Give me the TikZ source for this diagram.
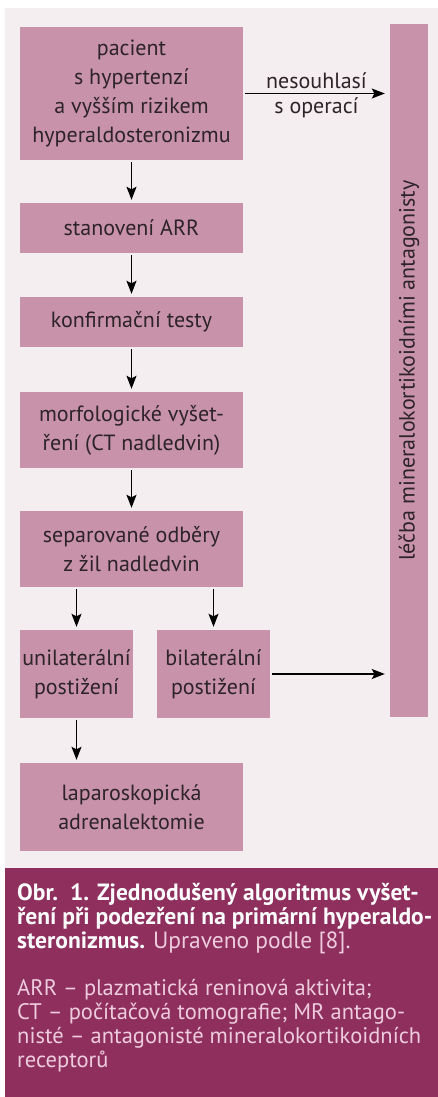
\documentclass[tikz,border=0pt]{standalone}
\usepackage{xcolor}
\usepackage{fontspec}
\setmainfont{PT Sans}
\usepackage{tikz}
\usetikzlibrary{arrows.meta}
\definecolor{boxpink}{RGB}{200,147,170}
\definecolor{bgpink}{RGB}{244,238,241}
\definecolor{capred}{RGB}{142,47,94}
\definecolor{caplight}{RGB}{238,204,221}
\definecolor{textdark}{RGB}{45,35,40}
\tikzset{box/.style={fill=boxpink, text=textdark, inner sep=0pt, align=center,
    font=\fontsize{22}{29}\selectfont},
  lab/.style={text=textdark, inner sep=4pt, font=\fontsize{22}{29}\selectfont},
  arr/.style={-{Stealth[length=13pt,width=10pt,inset=2.5pt]}, line width=1.3pt,
    shorten >=3pt, shorten <=2pt}}

\begin{document}
\begin{tikzpicture}[x=1pt,y=-1pt]
  \useasboundingbox (0,0) rectangle (438,1097);
  \fill[bgpink] (5,8) rectangle (438,868);
  \fill[capred] (5,868) rectangle (438,1097);
  \node[box, minimum width=223pt, minimum height=133pt] (P) at (131.5,93.5)
    {pacient\\ s hypertenzí\\ a vyšším rizikem\\ hyperaldosteronizmu};
  \node[box, minimum width=223pt, minimum height=50pt] (A) at (131.5,228) {stanovení ARR};
  \node[box, minimum width=223pt, minimum height=50pt] (K) at (131.5,322) {konfirmační testy};
  \node[box, minimum width=223pt, minimum height=76pt] (M) at (131.5,430)
    {morfologické vyšet-\\ ření (CT nadledvin)};
  \node[box, minimum width=223pt, minimum height=76pt] (S) at (131.5,549)
    {separované odběry\\ z žil nadledvin};
  \node[box, minimum width=113pt, minimum height=88pt] (U) at (76.5,674)
    {unilaterální\\ postižení};
  \node[box, minimum width=113pt, minimum height=88pt] (B) at (213.5,674)
    {bilaterální\\ postižení};
  \node[box, minimum width=223pt, minimum height=88pt] (L) at (131.5,807)
    {laparoskopická\\ adrenalektomie};
  \node[box, rotate=90, minimum width=693pt, minimum height=38pt] (T) at (409,370.5)
    {léčba mineralokortikoidními antagonisty};
  \draw[arr] (P) -- (A);
  \draw[arr] (A) -- (K);
  \draw[arr] (K) -- (M);
  \draw[arr] (M) -- (S);
  \draw[arr] (S.south -| U) -- (U);
  \draw[arr] (S.south -| B) -- (B);
  \draw[arr] (U) -- (L.north -| U);
  \draw[arr, shorten >=5pt] (P.east) -- (P.east -| T.north)
    node[lab, midway, above] {nesouhlasí} node[lab, midway, below] {s operací};
  \draw[arr, shorten >=5pt] (B.east) -- (B.east -| T.north);
  \node[anchor=base west, inner sep=0pt, align=left, text=white,
    font=\fontsize{23.5}{24}\selectfont\bfseries] (C) at (17,948)
    {Obr.\ \ 1. Zjednodušený algoritmus vyšet-\\
     ření při podezření na primární hyperaldo-\\
     steronizmus. {\mdseries\color{caplight}Upraveno podle [8].}};
  \node[anchor=base west, inner sep=0pt, align=left, text=caplight,
    font=\fontsize{22.5}{24}\selectfont] (D) at (17,1067)
    {ARR – plazmatická reninová aktivita;\\
     CT – počítačová tomografie; MR antago-\\
     nisté – antagonisté mineralokortikoidních\\
     receptorů};
\end{tikzpicture}
\end{document}
